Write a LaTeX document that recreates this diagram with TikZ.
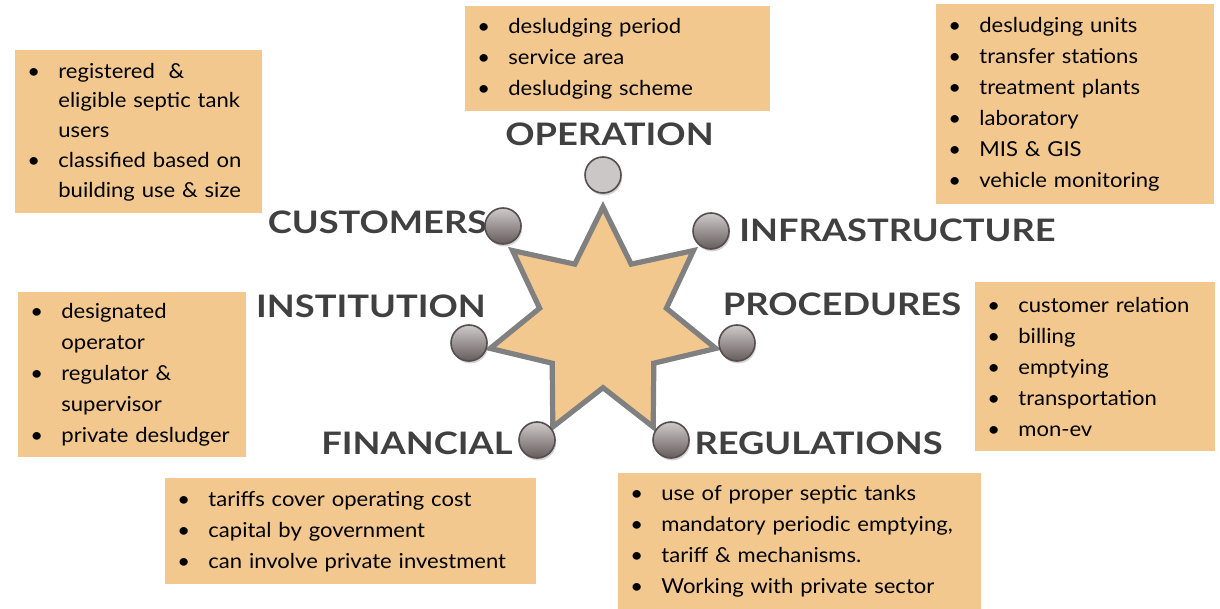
\documentclass[tikz,border=0pt]{standalone}
\usepackage{fontspec}
\setmainfont[FakeStretch=1.07]{Lato}
\newfontfamily\headfont[FakeStretch=1.17]{Lato}
\usetikzlibrary{positioning, shadows}
\definecolor{BoxPeach}{HTML}{F2C88F}
\definecolor{StarEdge}{HTML}{808080}
\definecolor{HeadGray}{HTML}{404040}
\definecolor{DotTop}{HTML}{CFCACA}
\definecolor{DotBottom}{HTML}{665C5C}
\definecolor{DotEdge}{HTML}{564E4E}
\definecolor{DotFlat}{HTML}{CCC7C7}
\newcommand{\bodyfont}{\fontsize{10.3}{15.5}\selectfont}
\newcommand{\bul}{\makebox[15.5pt][l]{\textbullet}}
\newcommand{\gap}{\hspace*{15.5pt}}
\tikzset{%
  info_box/.style={%
    fill=BoxPeach,%
    anchor=north west,%
    inner xsep=6pt,%
    inner ysep=0pt,%
    align=left,%
    font=\bodyfont,%
  },
  star_line/.style={%
    draw=StarEdge,%
    fill=BoxPeach,%
    line width=2.6pt,%
    line join=miter,%
  },
  sphere_dot/.style={%
    circle,%
    minimum size=18pt,%
    inner sep=0pt,%
    draw=DotEdge,%
    line width=0.8pt,%
    top color=DotTop,%
    bottom color=DotBottom,%
    drop shadow={shadow xshift=0.6pt, shadow yshift=-1.2pt, opacity=0.35},%
  },
  flat_dot/.style={%
    circle,%
    minimum size=18pt,%
    inner sep=0pt,%
    draw=DotEdge,%
    line width=0.8pt,%
    fill=DotFlat,%
    drop shadow={shadow xshift=0.6pt, shadow yshift=-1.2pt, opacity=0.35},%
  },
  head_label/.style={%
    font={\headfont\bfseries\fontsize{15.5}{15.5}\selectfont},%
    text=HeadGray,%
    inner sep=0pt,%
  },
}
\begin{document}
\begin{tikzpicture}[x=0.5pt, y=-0.5pt]
  \useasboundingbox (0,0) rectangle (1220,609);

  % text boxes
  \node [info_box, font={\fontsize{10.3}{14.9}\selectfont},
         text width=111.5pt, minimum height=81.5pt] (cust_box) at (15,50)
    {\bul registered~~\&\\ \gap eligible septic tank\\ \gap users\\
     \bul classified based on\\ \gap building use \& size};
  \node [info_box, text width=140.5pt, minimum height=52.5pt] (op_box) at (465,6)
    {\bul desludging period\\ \bul service area\\ \bul desludging scheme};
  \node [info_box, text width=127pt, minimum height=100pt] (infra_box) at (936,4)
    {\bul desludging units\\ \bul transfer stations\\ \bul treatment plants\\
     \bul laboratory\\ \bul MIS \& GIS\\ \bul vehicle monitoring};
  \node [info_box, text width=102pt, minimum height=82.5pt] (inst_box) at (18,292)
    {\bul designated\\ \gap operator\\ \bul regulator \&\\ \gap supervisor\\
     \bul private desludger};
  \node [info_box, text width=108pt, minimum height=84.5pt] (proc_box) at (975,282)
    {\bul customer relation\\ \bul billing\\ \bul emptying\\
     \bul transportation\\ \bul mon-ev};
  \node [info_box, text width=173.5pt, minimum height=53pt] (fin_box) at (165,478)
    {\bul tariffs cover operating cost\\ \bul capital by government\\
     \bul can involve private investment};
  \node [info_box, text width=169.5pt, minimum height=68pt] (reg_box) at (618,473)
    {\bul use of proper septic tanks\\ \bul mandatory periodic emptying,\\
     \bul tariff \& mechanisms.\\ \bul Working with private sector};

  % seven-pointed star
  \begin{scope}[shift={(603,322.7)}]
    \draw [star_line] (-90:115.7)
      \foreach \k in {0,...,5} {
        -- ({-64.29+51.43*\k}:65) -- ({-38.57+51.43*\k}:115.7)
      }
      -- (244.29:65) -- cycle;
  \end{scope}

  % titles
  \node [head_label] (op_head) at (609.5,134) {OPERATION};
  \node [head_label] (cust_head) at (377.5,222) {CUSTOMERS};
  \node [head_label] (infra_head) at (897.5,230) {INFRASTRUCTURE};
  \node [head_label] (inst_head) at (371,306) {INSTITUTION};
  \node [head_label] (proc_head) at (842,304) {PROCEDURES};
  \node [head_label] (fin_head) at (417,443) {FINANCIAL};
  \node [head_label] (reg_head) at (818.5,443) {REGULATIONS};

  % dots
  \node [flat_dot] (op_dot) at (603,175) {};
  \node [sphere_dot] (cust_dot) at (503,226) {};
  \node [sphere_dot] (infra_dot) at (711,231) {};
  \node [sphere_dot] (inst_dot) at (469,343) {};
  \node [sphere_dot] (proc_dot) at (737,343) {};
  \node [sphere_dot] (fin_dot) at (537,440) {};
  \node [sphere_dot] (reg_dot) at (671,440) {};
\end{tikzpicture}
\end{document}
